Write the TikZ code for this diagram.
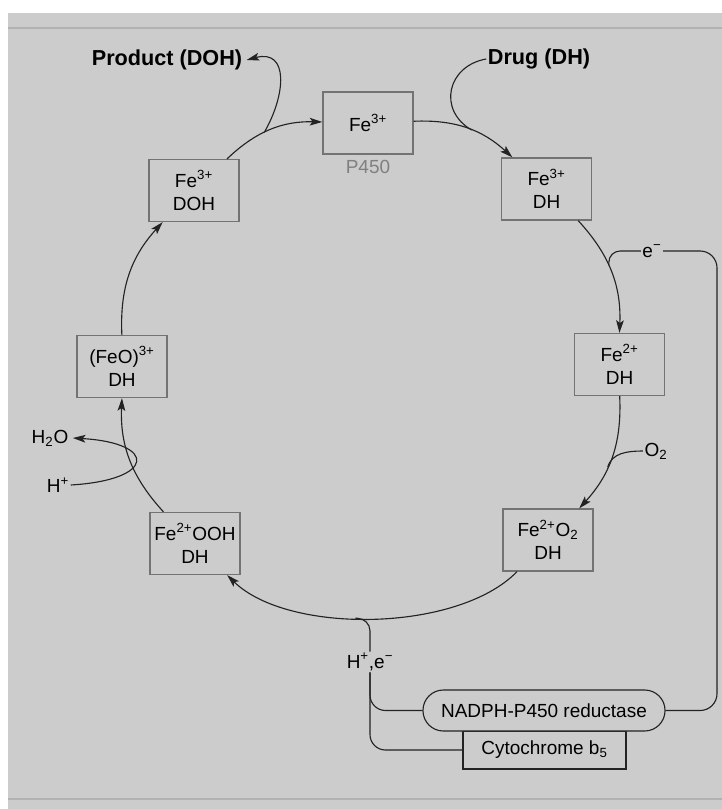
\documentclass[tikz,border=0pt]{standalone}
\usepackage{fontspec}
\setmainfont{Liberation Sans}
\usetikzlibrary{arrows.meta}
\definecolor{paper}{RGB}{204,204,204}
\definecolor{ink}{RGB}{35,35,35}
\newcommand{\cycfont}{\fontsize{13.5}{16.5}\selectfont}
\newcommand{\headfont}{\fontsize{15.4}{18}\selectfont\bfseries}
\tikzstyle{state}=[rectangle, draw=black!55, fill=paper, line width=0.9pt,
  minimum width=2.25cm, minimum height=1.55cm, inner sep=0pt,
  align=center, font=\cycfont]
\tikzstyle{enzyme}=[rectangle, draw=ink, fill=paper, line width=0.8pt,
  inner sep=0pt, font=\cycfont]
\tikzstyle{species}=[inner sep=1pt, font=\cycfont]
\tikzstyle{arrcyc}=[->, >={Stealth[length=9pt,width=5.5pt,inset=2pt]},
  draw=ink, line width=0.8pt]
\tikzstyle{arrside}=[draw=ink, line width=0.8pt]

\begin{document}
\begin{tikzpicture}[x=0.025cm, y=0.025cm]
\useasboundingbox (0,0) rectangle (722,-809);
\fill[white] (0,0) rectangle (722,-809);
\fill[paper] (8,-13) rectangle (722,-809);
\draw[black!30, line width=0.8pt] (8,-28) -- (722,-28);
\draw[black!30, line width=0.8pt] (8,-799) -- (722,-799);

\node[state] (fe3) at (368,-123) {Fe\textsuperscript{3+}};
\node[species, text=black!50] (p450) at (368,-167) {P450};
\node[state] (fe3dh) at (546.5,-189) {Fe\textsuperscript{3+}\\DH};
\node[state] (fe2dh) at (619.5,-364.5) {Fe\textsuperscript{2+}\\DH};
\node[state] (fe2o2) at (548,-540) {Fe\textsuperscript{2+}O\textsubscript{2}\\DH};
\node[state] (fe2ooh) at (195,-543.5) {Fe\textsuperscript{2+}OOH\\DH};
\node[state] (feo) at (122,-366.5) {(FeO)\textsuperscript{3+}\\DH};
\node[state] (fe3doh) at (194,-190.5) {Fe\textsuperscript{3+}\\DOH};

\node[species, font=\headfont, inner sep=3pt] (product) at (167,-60) {Product (DOH)};
\node[species, font=\headfont] (drug) at (539,-59) {Drug (DH)};
\node[species] (eminus) at (652,-251) {e\textsuperscript{−}};
\node[species] (oxygen) at (656,-451) {O\textsubscript{2}};
\node[species] (hle) at (370,-662) {H\textsuperscript{+},e\textsuperscript{−}};
\node[species, inner sep=3pt] (water) at (50,-438) {H\textsubscript{2}O};
\node[species] (proton) at (58,-485) {H\textsuperscript{+}};

\node[enzyme, minimum width=4.075cm, minimum height=0.95cm] (cyto)
  at (544.5,-750) {Cytochrome b\textsubscript{5}};
\node[enzyme, rounded corners=0.51cm, minimum width=6.05cm,
  minimum height=1.025cm] (nadph) at (544,-710.5) {NADPH-P450 reductase};
\coordinate (ecorner) at (717,-251);

\draw[arrcyc] (fe3) to[bend left=22.5] coordinate[pos=0.55] (jdrug) (fe3dh);
\draw[arrcyc] (fe3dh) to[bend left=22.5] coordinate[pos=0.44] (je) (fe2dh);
\draw[arrcyc] (fe2dh) to[bend left=22.5] coordinate[pos=0.6] (jo) (fe2o2);
\draw[arrcyc] (fe2o2) to[bend left=45, looseness=0.75] coordinate[pos=0.55] (jh) (fe2ooh);
\draw[arrcyc] (fe2ooh) to[bend left=22.5] (feo);
\draw[arrcyc] (feo) to[bend left=22.5] (fe3doh);
\draw[arrcyc] (fe3doh) to[bend left=22.5] coordinate[pos=0.43] (jprod) (fe3);

\draw[arrside] (drug.west) to[out=190, in=150, looseness=1.4] (jdrug);
\draw[arrcyc] (jprod) to[out=60, in=15, looseness=1.5] (product.east);
\draw[arrcyc] (proton.east) .. controls +(85,5) and +(85,-5) .. (water.east);

\draw[arrside, rounded corners=8pt] (eminus.west) -| (je);
\draw[arrside] (oxygen.west) to[out=180, in=75] (jo);
\draw[arrside, rounded corners=9pt] (hle.north) |- (jh);
\draw[arrside, rounded corners=11pt] (hle.south) |- (cyto.west);
\draw[arrside, rounded corners=11pt] (hle.south) |- (nadph.west);
\draw[arrside, rounded corners=12pt] (nadph.east) -| (ecorner) -- (eminus.east);

\end{tikzpicture}
\end{document}
